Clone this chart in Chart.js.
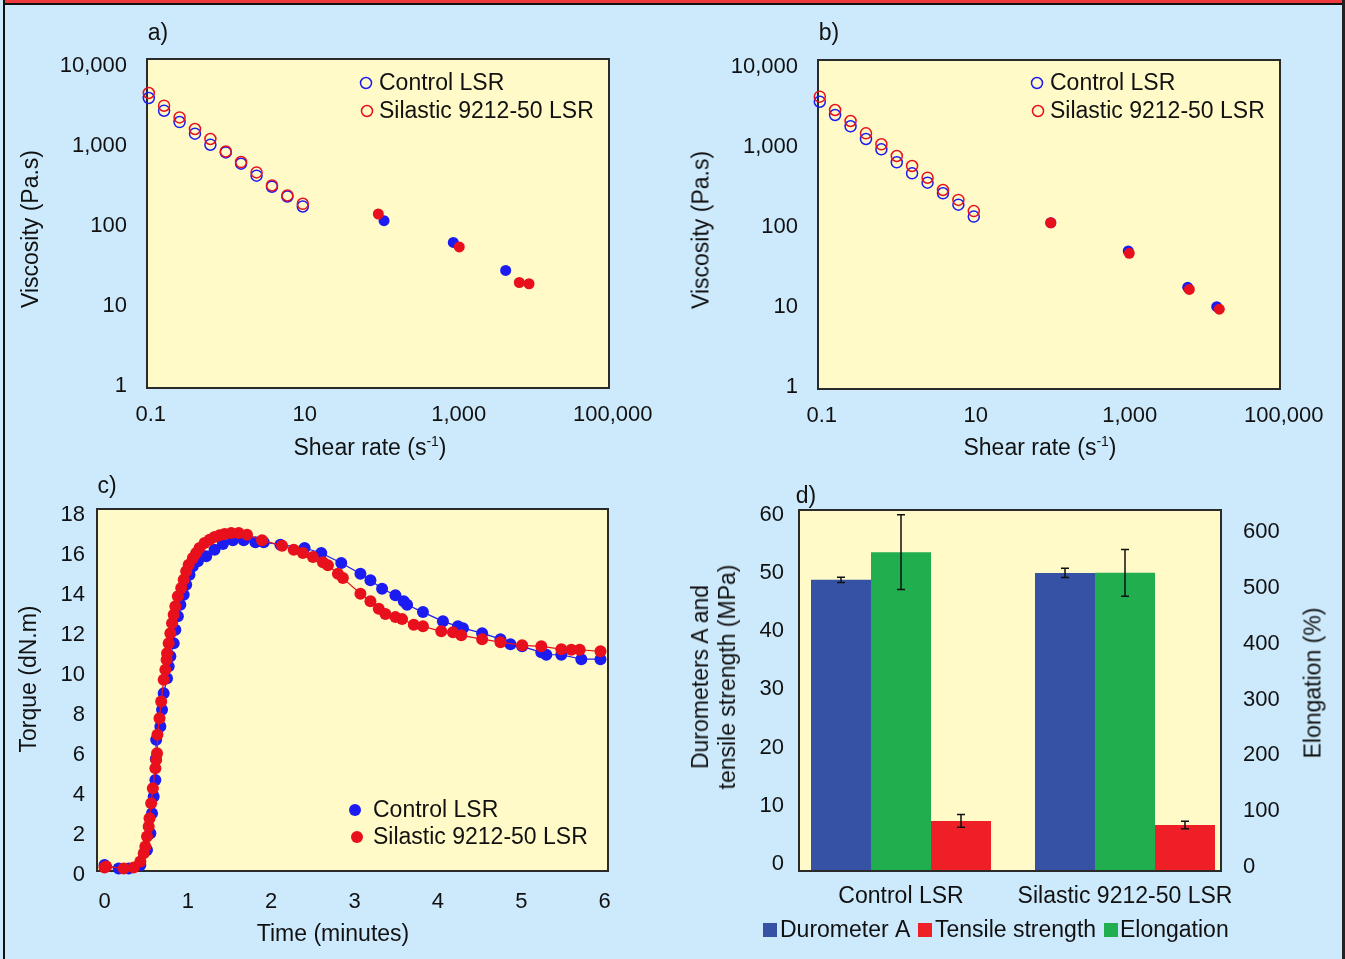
<!DOCTYPE html>
<html>
<head>
<meta charset="utf-8">
<title>LSR rheology, cure and mechanical properties</title>
<script src="https://cdn.jsdelivr.net/npm/chart.js@4.4.1/dist/chart.umd.min.js"></script>
<style>
  html, body { margin: 0; padding: 0; }
  body {
    width: 1345px; height: 959px; position: relative; overflow: hidden;
    background: #cdeafc; color: #111;
    font-family: 'Liberation Sans', Arial, Helvetica, sans-serif;
  }
  #topBar { position: absolute; left: 4px; top: 0; width: 1338px; height: 3px; background: #ee3a3e; border-bottom: 2px solid #111; }
  #edgeL { position: absolute; left: 3px; top: 0; width: 2px; height: 959px; background: #111; }
  #edgeR { position: absolute; left: 1342px; top: 0; width: 3px; height: 959px; background: #222; }
  .panel { position: absolute; }
  .txt { position: absolute; font-size: 23px; line-height: 27px; white-space: nowrap; text-align: center;
         transform: translate(-50%, -50%); }
  .rot { transform: translate(-50%, -50%) rotate(-90deg); }
  .txt sup { font-size: 14px; line-height: 0; vertical-align: 9px; }
</style>
</head>
<body>
<div id="topBar"></div>
<div id="edgeL"></div>
<div id="edgeR"></div>

<div class="panel" style="left:0;top:0;"><canvas id="chartA" width="672" height="440" style="width:672px;height:440px"></canvas></div>
<div class="panel" style="left:671px;top:0;"><canvas id="chartB" width="672" height="440" style="width:672px;height:440px"></canvas></div>
<div class="panel" style="left:0;top:470px;"><canvas id="chartC" width="672" height="489" style="width:672px;height:489px"></canvas></div>
<div class="panel" style="left:672px;top:470px;"><canvas id="chartD" width="671" height="489" style="width:671px;height:489px"></canvas></div>

<div class="txt" style="left:158px;top:32px">a)</div>
<div class="txt" style="left:829px;top:32px">b)</div>
<div class="txt" style="left:107px;top:485px">c)</div>
<div class="txt" style="left:806px;top:495px">d)</div>

<div class="txt rot" style="left:30px;top:229px">Viscosity (Pa.s)</div>
<div class="txt rot" style="left:701px;top:230px">Viscosity (Pa.s)</div>
<div class="txt" style="left:370px;top:447px">Shear rate (s<sup>-1</sup>)</div>
<div class="txt" style="left:1040px;top:447px">Shear rate (s<sup>-1</sup>)</div>

<div class="txt rot" style="left:28px;top:679px">Torque (dN.m)</div>
<div class="txt" style="left:333px;top:933px">Time (minutes)</div>

<div class="txt rot" style="left:714px;top:677px">Durometers A and<br>tensile strength (MPa)</div>
<div class="txt rot" style="left:1313px;top:683px">Elongation (%)</div>

<script>
// ---- a) / b) viscosity vs shear rate ----
var SHEAR_LOW = [0.1, 0.158, 0.251, 0.398, 0.631, 1, 1.58, 2.51, 3.98, 6.31, 10];
var SHEAR_TICKS = [0.1, 10, 1000, 100000];
var VISC_TICKS = [1, 10, 100, 1000, 10000];

var A_CTRL_LOW = [3947, 2738, 1977, 1413, 1029, 824, 596, 422, 307, 232, 174];
var A_SIL_LOW = [4560, 3162, 2259, 1618, 1213, 849, 625, 464, 319, 239, 188];
var A_CTRL_HIGH_X = [113.5, 901, 4315];
var A_CTRL_HIGH = [115.5, 61.8, 27.6];
var A_SIL_HIGH_X = [95.7, 1077, 6486, 8670];
var A_SIL_HIGH = [140, 54.2, 19.5, 18.8];

var B_CTRL_LOW = [3681, 2512, 1815, 1259, 936, 644, 469, 358, 264, 190, 135];
var B_SIL_LOW = [4256, 2901, 2113, 1483, 1081, 772, 579, 413, 290, 218, 158];
var B_CTRL_HIGH_X = [100, 1014, 5998, 14290];
var B_CTRL_HIGH = [113, 50.1, 17.6, 10.1];
var B_SIL_HIGH_X = [100, 1045, 6295, 15430];
var B_SIL_HIGH = [113, 46.9, 16.6, 9.4];

// ---- c) torque vs time ----
var C_CTRL_T = [0.00, 0.17, 0.29, 0.43, 0.51, 0.55, 0.57, 0.59, 0.61, 0.615, 0.62, 0.67, 0.69, 0.71, 0.75, 0.77,
  0.79, 0.83, 0.85, 0.88, 0.91, 0.95, 0.98, 1.02, 1.06, 1.12, 1.22, 1.32, 1.42, 1.54, 1.67, 1.81, 1.91, 2.11,
  2.40, 2.60, 2.84, 3.07, 3.19, 3.33, 3.49, 3.59, 3.63, 3.82, 4.06, 4.24, 4.30, 4.53, 4.75, 4.87, 5.01, 5.24,
  5.30, 5.48, 5.72, 5.95];
var C_CTRL_TORQUE = [0.30, 0.13, 0.13, 0.30, 1.05, 1.88, 2.88, 3.72, 4.55, 5.60, 6.55, 7.22, 8.05, 8.88, 9.63, 10.22,
  10.72, 11.38, 12.05, 12.72, 13.30, 13.80, 14.30, 14.80, 15.22, 15.47, 15.72, 16.05, 16.33, 16.52, 16.52, 16.42, 16.42, 16.30,
  16.13, 15.88, 15.38, 14.85, 14.52, 14.10, 13.77, 13.47, 13.30, 12.93, 12.47, 12.22, 12.13, 11.88, 11.58, 11.33, 11.22, 10.92,
  10.80, 10.80, 10.58, 10.58];
var C_SIL_T = [0.00, 0.02, 0.23, 0.35, 0.43, 0.47, 0.49, 0.51, 0.53, 0.54, 0.56, 0.58, 0.61, 0.62, 0.63, 0.635,
  0.66, 0.68, 0.71, 0.73, 0.745, 0.75, 0.77, 0.79, 0.81, 0.83, 0.85, 0.88, 0.92, 0.95, 0.98, 1.01, 1.06, 1.10,
  1.14, 1.20, 1.26, 1.32, 1.38, 1.44, 1.52, 1.61, 1.71, 1.89, 2.13, 2.27, 2.38, 2.50, 2.62, 2.68, 2.80, 2.86,
  3.07, 3.19, 3.29, 3.37, 3.49, 3.57, 3.71, 3.82, 4.04, 4.18, 4.28, 4.53, 4.75, 5.01, 5.24, 5.48, 5.60, 5.70, 5.95];
var C_SIL_TORQUE = [0.17, 0.22, 0.13, 0.17, 0.47, 0.88, 1.22, 1.72, 2.22, 2.63, 3.38, 4.13, 5.13, 5.55, 5.88, 6.80,
  7.63, 8.47, 9.55, 10.05, 10.55, 10.88, 11.38, 11.88, 12.38, 12.80, 13.22, 13.72, 14.13, 14.55, 14.97, 15.30, 15.63, 15.88,
  16.13, 16.38, 16.55, 16.68, 16.77, 16.83, 16.88, 16.88, 16.80, 16.52, 16.25, 16.05, 15.88, 15.68, 15.42, 15.27, 14.85, 14.63,
  13.85, 13.47, 13.10, 12.83, 12.68, 12.58, 12.30, 12.22, 11.97, 11.92, 11.77, 11.58, 11.43, 11.27, 11.22, 11.08, 11.05, 11.05, 10.97];
var TIME_TICKS = [0, 1, 2, 3, 4, 5, 6];
var TORQUE_TICKS = [0, 2, 4, 6, 8, 10, 12, 14, 16, 18];

// ---- d) mechanical properties ----
var GRADES = ['Control LSR', 'Silastic 9212-50 LSR'];
var DUROMETER = [50.0, 51.2];
var DUROMETER_ERR = [0.45, 0.8];
var ELONGATION = [571, 534];
var ELONGATION_ERR = [67, 42];
var TENSILE = [8.6, 7.9];
var TENSILE_ERR = [1.1, 0.65];
var LEFT_TICKS = [0, 10, 20, 30, 40, 50, 60];
var RIGHT_TICKS = [0, 100, 200, 300, 400, 500, 600];

(function () {
    'use strict';

    var FONT = "'Liberation Sans', Arial, Helvetica, sans-serif";
    Chart.defaults.font.family = FONT;
    Chart.defaults.font.size = 22;
    Chart.defaults.color = '#111';

    var BLUE = '#1c1cf2';
    var RED = '#e8101d';
    var PLOT_BG = '#fffac7';
    var WORD_FONT = '23px ' + FONT;

    function pairs(xs, ys) {
        return xs.map(function (x, i) { return { x: x, y: ys[i] }; });
    }
    function fixedTicks(list) {
        return function (scale) {
            scale.ticks = list.map(function (v) { return { value: v }; });
        };
    }
    function fmt(v) { return Number(v).toLocaleString('en-US'); }

    // yellow plot area + dark frame
    var plotBox = {
        id: 'plotBox',
        beforeDraw: function (chart) {
            var a = chart.chartArea, ctx = chart.ctx;
            ctx.save();
            ctx.fillStyle = PLOT_BG;
            ctx.fillRect(a.left, a.top, a.right - a.left, a.bottom - a.top);
            ctx.restore();
        },
        beforeDatasetsDraw: function (chart, args, opts) {
            if (!opts.onTop) drawFrame(chart);
        },
        afterDatasetsDraw: function (chart, args, opts) {
            if (opts.onTop) drawFrame(chart);
        }
    };
    function drawFrame(chart) {
        var a = chart.chartArea, ctx = chart.ctx;
        ctx.save();
        ctx.strokeStyle = '#2a2a2a';
        ctx.lineWidth = 2;
        ctx.strokeRect(a.left, a.top, a.right - a.left, a.bottom - a.top);
        ctx.restore();
    }

    // small hand-placed legends
    var keyBox = {
        id: 'keyBox',
        afterDraw: function (chart, args, opts) {
            if (!opts.items) return;
            var ctx = chart.ctx;
            ctx.save();
            ctx.font = WORD_FONT;
            ctx.textBaseline = 'middle';
            ctx.textAlign = 'left';
            opts.items.forEach(function (it) {
                var ds = chart.data.datasets[it.ds];
                if (opts.shape === 'square') {
                    ctx.fillStyle = ds.backgroundColor;
                    ctx.fillRect(it.x - 7, it.y - 7, 14, 14);
                } else {
                    ctx.beginPath();
                    ctx.arc(it.x, it.y, opts.radius, 0, Math.PI * 2);
                    if (opts.filled) {
                        ctx.fillStyle = ds.pointBackgroundColor;
                        ctx.fill();
                    } else {
                        ctx.strokeStyle = ds.pointBorderColor;
                        ctx.lineWidth = 1.5;
                        ctx.stroke();
                    }
                }
                ctx.fillStyle = '#111';
                ctx.fillText(ds.label, it.tx, it.y + 1);
            });
            ctx.restore();
        }
    };

    // error bars on the grouped bars
    var errorBars = {
        id: 'errorBars',
        afterDatasetsDraw: function (chart) {
            var ctx = chart.ctx;
            chart.data.datasets.forEach(function (ds, i) {
                if (!ds.errors) return;
                var scale = chart.scales[ds.yAxisID];
                chart.getDatasetMeta(i).data.forEach(function (bar, j) {
                    var v = ds.data[j].y, e = ds.errors[j];
                    var top = scale.getPixelForValue(v + e);
                    var bot = scale.getPixelForValue(v - e);
                    ctx.save();
                    ctx.strokeStyle = '#111';
                    ctx.lineWidth = 1.5;
                    ctx.beginPath();
                    ctx.moveTo(bar.x, top); ctx.lineTo(bar.x, bot);
                    ctx.moveTo(bar.x - 4, top); ctx.lineTo(bar.x + 4, top);
                    ctx.moveTo(bar.x - 4, bot); ctx.lineTo(bar.x + 4, bot);
                    ctx.stroke();
                    ctx.restore();
                });
            });
        }
    };

    function openSet(label, color, xs, ys) {
        return {
            label: label, data: pairs(xs, ys), order: color === RED ? 1 : 2,
            pointStyle: 'circle', pointRadius: 5.5, pointBorderWidth: 1.5,
            pointBorderColor: color, pointBackgroundColor: 'rgba(0,0,0,0)', clip: false
        };
    }
    function solidSet(label, color, xs, ys) {
        return {
            label: label, data: pairs(xs, ys), order: color === RED ? 1 : 2,
            pointStyle: 'circle', pointRadius: 5.5, pointBorderWidth: 0,
            pointBorderColor: color, pointBackgroundColor: color, clip: false
        };
    }

    function viscosityChart(id, top, ctrlLow, silLow, ctrlHx, ctrlH, silHx, silH, yMin, yMax) {
        var el = document.getElementById(id);
        new Chart(el, {
            type: 'scatter',
            data: {
                datasets: [
                    openSet('Control LSR', BLUE, SHEAR_LOW, ctrlLow),
                    openSet('Silastic 9212-50 LSR', RED, SHEAR_LOW, silLow),
                    solidSet('Control LSR', BLUE, ctrlHx, ctrlH),
                    solidSet('Silastic 9212-50 LSR', RED, silHx, silH)
                ]
            },
            options: {
                responsive: false,
                animation: false,
                events: [],
                layout: { padding: { top: top, right: 63, left: 0, bottom: 0 } },
                plugins: {
                    legend: { display: false },
                    tooltip: { enabled: false },
                    plotBox: { onTop: false },
                    keyBox: {
                        radius: 5.5, filled: false,
                        items: [{ ds: 0, x: 366, y: 83, tx: 379 }, { ds: 1, x: 367, y: 111, tx: 379 }]
                    }
                },
                scales: {
                    x: {
                        type: 'logarithmic', min: 0.0948, max: 94760,
                        afterBuildTicks: fixedTicks(SHEAR_TICKS),
                        afterFit: function (s) { s.height = 440 - 329 - top; },
                        grid: { display: false, drawTicks: false }, border: { display: false },
                        ticks: { padding: 14, labelOffset: 2, maxRotation: 0, callback: fmt }
                    },
                    y: {
                        type: 'logarithmic', min: yMin, max: yMax,
                        afterBuildTicks: fixedTicks(VISC_TICKS),
                        afterFit: function (s) { s.width = 147; },
                        grid: { display: false, drawTicks: false }, border: { display: false },
                        ticks: { padding: 20, callback: fmt }
                    }
                }
            },
            plugins: [plotBox, keyBox]
        });
    }

    viscosityChart('chartA', 59, A_CTRL_LOW, A_SIL_LOW, A_CTRL_HIGH_X, A_CTRL_HIGH, A_SIL_HIGH_X, A_SIL_HIGH,
        Math.pow(10, -0.029), Math.pow(10, 4.084));
    viscosityChart('chartB', 60, B_CTRL_LOW, B_SIL_LOW, B_CTRL_HIGH_X, B_CTRL_HIGH, B_SIL_HIGH_X, B_SIL_HIGH,
        Math.pow(10, -0.025), Math.pow(10, 4.0875));

    // c) cure curves
    function cureSet(label, color, xs, ys) {
        return {
            label: label, data: pairs(xs, ys), order: color === RED ? 1 : 2,
            showLine: true, borderColor: color, borderWidth: 1.2,
            pointStyle: 'circle', pointRadius: 6, pointBorderWidth: 0,
            pointBackgroundColor: color, backgroundColor: color, clip: false
        };
    }
    new Chart(document.getElementById('chartC'), {
        type: 'scatter',
        data: {
            datasets: [
                cureSet('Control LSR', BLUE, C_CTRL_T, C_CTRL_TORQUE),
                cureSet('Silastic 9212-50 LSR', RED, C_SIL_T, C_SIL_TORQUE)
            ]
        },
        options: {
            responsive: false,
            animation: false,
            events: [],
            layout: { padding: { top: 39, right: 64, left: 0, bottom: 0 } },
            plugins: {
                legend: { display: false },
                tooltip: { enabled: false },
                plotBox: { onTop: false },
                keyBox: {
                    radius: 6, filled: true,
                    items: [{ ds: 0, x: 355, y: 340, tx: 373 }, { ds: 1, x: 357, y: 367, tx: 373 }]
                }
            },
            scales: {
                x: {
                    type: 'linear', min: -0.09, max: 6.04,
                    afterBuildTicks: fixedTicks(TIME_TICKS),
                    afterFit: function (s) { s.height = 88; },
                    grid: { display: false, drawTicks: false }, border: { display: false },
                    ticks: { padding: 18, maxRotation: 0 }
                },
                y: {
                    type: 'linear', min: 0, max: 18.08,
                    afterBuildTicks: fixedTicks(TORQUE_TICKS),
                    afterFit: function (s) { s.width = 97; },
                    grid: { display: false, drawTicks: false }, border: { display: false },
                    ticks: { padding: 12, labelOffset: 4 }
                }
            }
        },
        plugins: [plotBox, keyBox]
    });

    // d) durometer / tensile / elongation bars
    function barSet(label, color, axis, vals, errs) {
        return {
            label: label, yAxisID: axis, backgroundColor: color, borderWidth: 0,
            data: vals.map(function (v, i) { return { x: i, y: v }; }),
            errors: errs
        };
    }
    new Chart(document.getElementById('chartD'), {
        type: 'bar',
        data: {
            datasets: [
                barSet('Durometer A', '#3652a5', 'y', DUROMETER, DUROMETER_ERR),
                barSet('Elongation', '#21ae4f', 'y2', ELONGATION, ELONGATION_ERR),
                barSet('Tensile strength', '#ee1f26', 'y', TENSILE, TENSILE_ERR)
            ]
        },
        options: {
            responsive: false,
            animation: false,
            events: [],
            categoryPercentage: 0.8036,
            barPercentage: 1,
            layout: { padding: { top: 40, right: 0, left: 0, bottom: 0 } },
            plugins: {
                legend: { display: false },
                tooltip: { enabled: false },
                plotBox: { onTop: true },
                keyBox: {
                    shape: 'square',
                    items: [
                        { ds: 0, x: 98, y: 460, tx: 108 },
                        { ds: 2, x: 253, y: 460, tx: 263 },
                        { ds: 1, x: 439, y: 460, tx: 448 }
                    ]
                }
            },
            scales: {
                x: {
                    type: 'linear', offset: false, min: -0.4554, max: 1.4286,
                    afterBuildTicks: fixedTicks([0, 1]),
                    afterFit: function (s) { s.height = 88; },
                    grid: { display: false, drawTicks: false }, border: { display: false },
                    ticks: { padding: 12, maxRotation: 0, font: { size: 23 },
                             callback: function (v) { return GRADES[v]; } }
                },
                y: {
                    type: 'linear', position: 'left', min: 0, max: 62.0,
                    afterBuildTicks: fixedTicks(LEFT_TICKS),
                    afterFit: function (s) { s.width = 127; },
                    grid: { display: false, drawTicks: false }, border: { display: false },
                    ticks: { padding: 15, labelOffset: -7 }
                },
                y2: {
                    type: 'linear', position: 'right', min: 0, max: 646.6,
                    afterBuildTicks: fixedTicks(RIGHT_TICKS),
                    afterFit: function (s) { s.width = 122; },
                    grid: { display: false, drawTicks: false }, border: { display: false },
                    ticks: { padding: 22, labelOffset: -4 }
                }
            }
        },
        plugins: [plotBox, keyBox, errorBars]
    });
})();
</script>
</body>
</html>
